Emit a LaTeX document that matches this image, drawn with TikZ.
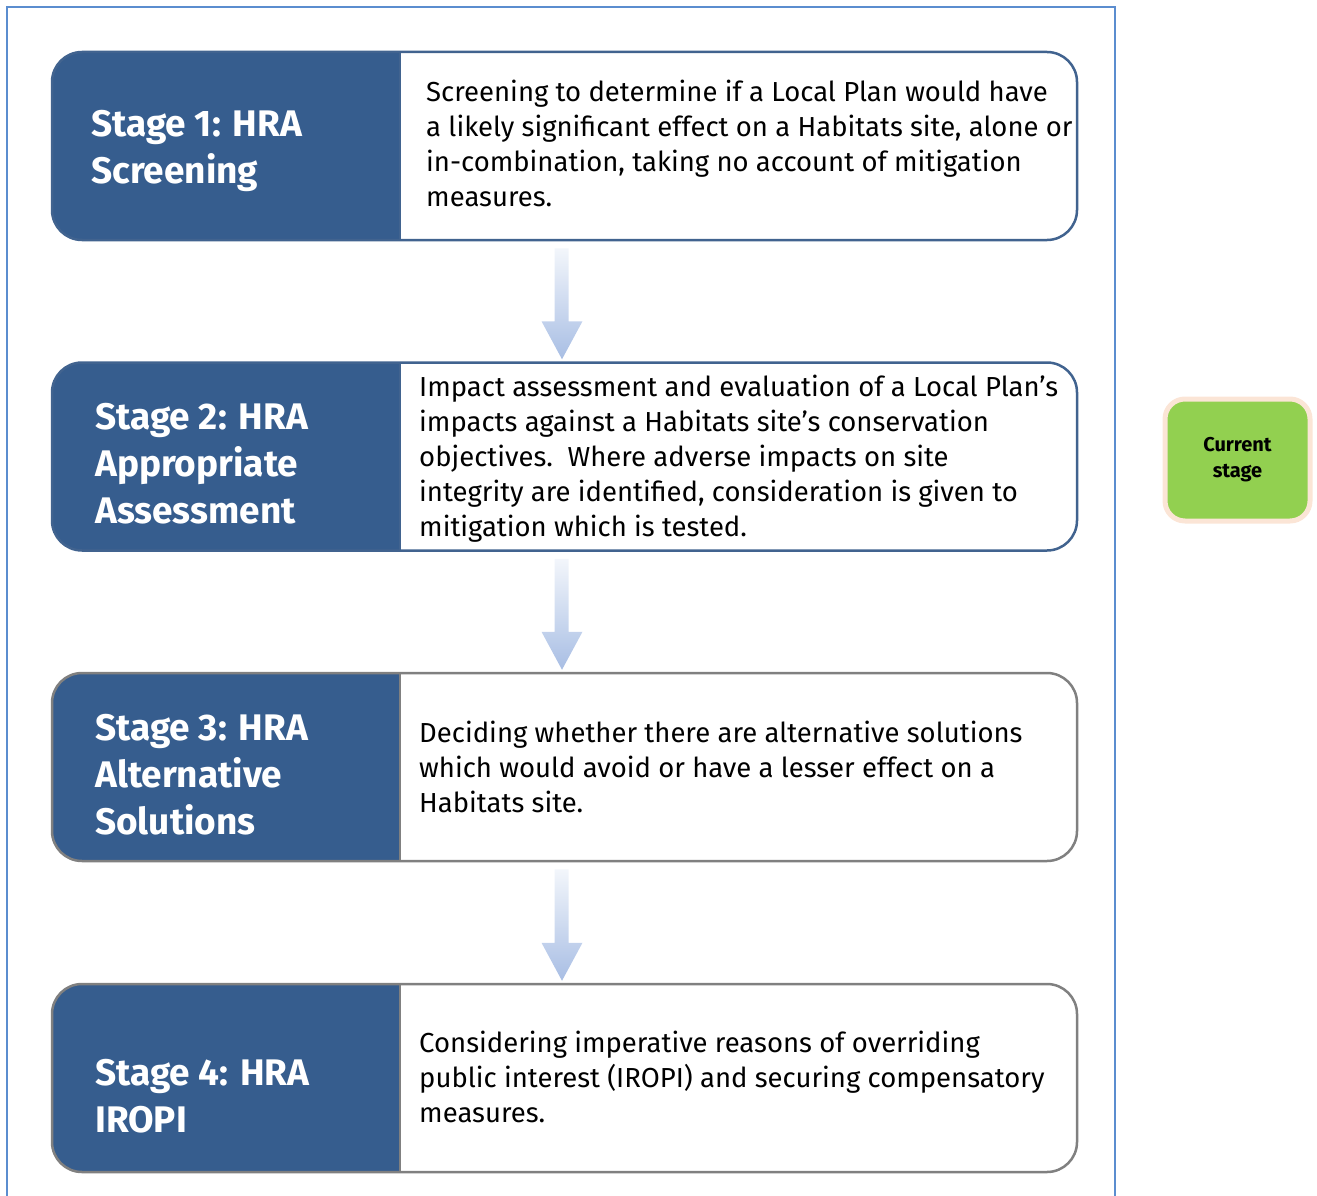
\documentclass[tikz,border=0pt]{standalone}
\usepackage{fontspec}
\setmainfont{Fira Sans}
\usetikzlibrary{calc}
\definecolor{stageblue}{HTML}{365D8E}
\definecolor{rowblue}{HTML}{41638F}
\definecolor{rowgray}{HTML}{808080}
\definecolor{framecol}{HTML}{5B8DCF}
\definecolor{arrowtop}{HTML}{F3F6FB}
\definecolor{arrowbot}{HTML}{A8BEE4}
\definecolor{curfill}{HTML}{92D050}
\definecolor{curedge}{HTML}{FBE5D6}
% block arrow from one stage row down to the next
\newcommand{\stagearrow}[2]{%
  \shade[arrowshade] ($(#1.south)+(-10,7)$) -- ($(#1.south)+(4,7)$)
    -- ($(#2.north)+(4,-40)$) -- ($(#2.north)+(18,-40)$)
    -- ($(#2.north)+(-2.5,-2)$) -- ($(#2.north)+(-23,-40)$)
    -- ($(#2.north)+(-10,-40)$) -- cycle;}

\begin{document}
\begin{tikzpicture}[x=1pt,y=-1pt,
  row/.style={draw=#1, line width=2.5pt, rounded corners=30pt, fill=white,
    minimum width=1025pt, minimum height=188pt, inner sep=0pt,
    path picture={\fill[stageblue, sharp corners] (path picture bounding box.north west)
      rectangle ([xshift=348pt]path picture bounding box.south west);
      \draw[#1, line width=1.2pt, sharp corners] ([xshift=348pt]path picture bounding box.north west)
      -- ([xshift=348pt]path picture bounding box.south west);}},
  title/.style={anchor=west, align=left, inner sep=0pt, text=white,
    font=\fontsize{37}{47}\selectfont\bfseries},
  desc/.style={anchor=west, align=left, inner sep=0pt,
    font=\fontsize{27.5}{35}\selectfont},
  arrowshade/.style={top color=arrowtop, bottom color=arrowbot},
  current/.style={draw=curedge, line width=5pt, fill=curfill, rounded corners=20pt,
    minimum width=145pt, minimum height=122pt, align=center,
    font=\fontsize{20}{26}\selectfont\bfseries}]
\useasboundingbox (0,0) rectangle (1317,1196);
\draw[framecol, line width=1.8pt] (7,1205) -- (7,7) -- (1115,7) -- (1115,1205);

% stage rows
\node[row=rowblue] (s1) at (564.5,146) {};
\node[row=rowblue] (s2) at (564.5,456.5) {};
\node[row=rowgray] (s3) at (564.5,767) {};
\node[row=rowgray] (s4) at (564.5,1078) {};

\node[title] (t1) at (91,151) {Stage 1: HRA\\Screening};
\node[title] (t2) at (95,464) {Stage 2: HRA\\Appropriate\\Assessment};
\node[title] (t3) at (95,775) {Stage 3: HRA\\Alternative\\Solutions};
\node[title] (t4) at (95,1096) {Stage 4: HRA\\IROPI};

\node[desc] (d1) at (426,143) {Screening to determine if a Local Plan would have\\
  a likely significant effect on a Habitats site, alone or\\
  in-combination, taking no account of mitigation\\measures.};
\node[desc] (d2) at (419,459) {Impact assessment and evaluation of a Local Plan’s\\
  impacts against a Habitats site’s conservation\\
  objectives.\ \ Where adverse impacts on site\\
  integrity are identified, consideration is given to\\
  mitigation which is tested.};
\node[desc] (d3) at (419,767) {Deciding whether there are alternative solutions\\
  which would avoid or have a lesser effect on a\\Habitats site.};
\node[desc] (d4) at (419,1077) {Considering imperative reasons of overriding\\
  public interest (IROPI) and securing compensatory\\measures.};

\stagearrow{s1}{s2}
\stagearrow{s2}{s3}
\stagearrow{s3}{s4}

\node[current] (cur) at (1237.5,460) {Current\\stage};
\end{tikzpicture}
\end{document}
